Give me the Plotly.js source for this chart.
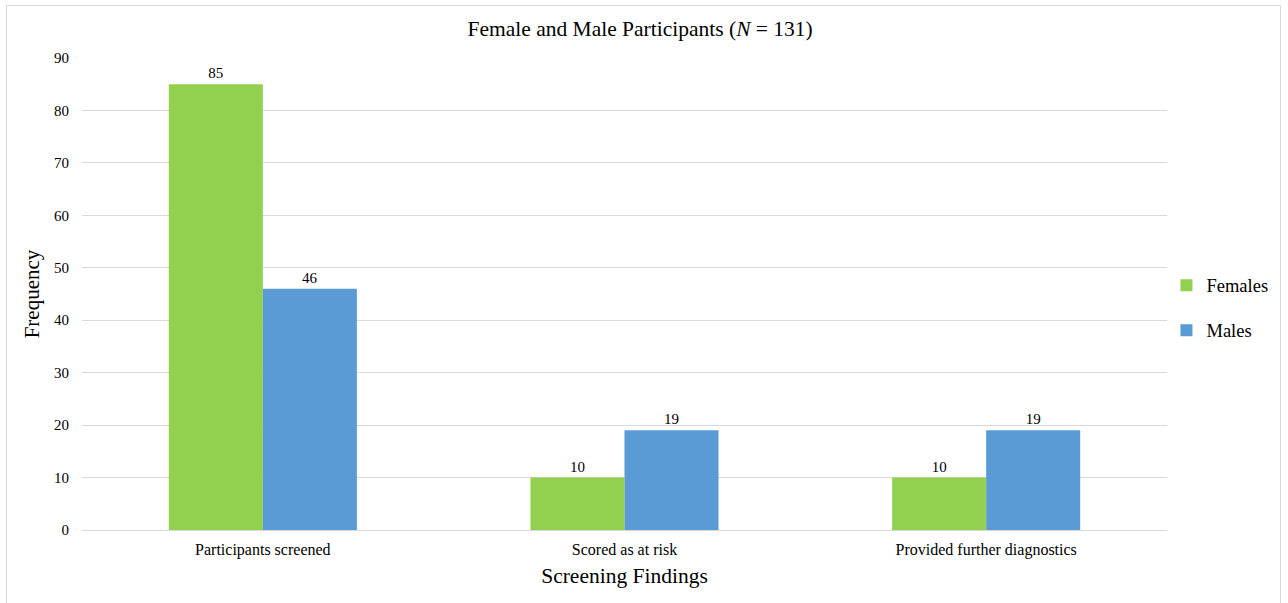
<!DOCTYPE html>
<html><head><meta charset="utf-8">
<script src="https://cdn.plot.ly/plotly-3.0.1.min.js"></script>
<style>
html,body{margin:0;padding:0;background:#fff;}
#wrap{position:relative;width:1288px;height:603px;}
#frame{position:absolute;left:6px;top:5px;width:1275px;height:610px;border:1px solid #d9d9d9;box-sizing:border-box;pointer-events:none;z-index:5;}
#chart{position:absolute;left:0;top:0;width:1288px;height:603px;}
</style></head>
<body>
<div id="wrap"><div id="chart"></div><div id="frame"></div></div>
<script>
const categories = ["Participants screened", "Scored as at risk", "Provided further diagnostics"];
const females = [85, 10, 10];
const males = [46, 19, 19];
const seriesNames = ["Females", "Males"];

const font = "'Liberation Serif', 'Times New Roman', serif";
const traces = [
  {type:'bar', name:seriesNames[0], x:categories, y:females, marker:{color:'#92d050'},
   text:females.map(String), textposition:'outside', textfont:{family:font,size:15,color:'#000'}, cliponaxis:false, legendgroup:'f'},
  {type:'bar', name:seriesNames[1], x:categories, y:males, marker:{color:'#5b9bd5'},
   text:males.map(String), textposition:'outside', textfont:{family:font,size:15,color:'#000'}, cliponaxis:false, legendgroup:'m'}
];
const layout = {
  width:1288, height:603,
  margin:{l:82, r:121, t:58, b:73, autoexpand:false},
  paper_bgcolor:'#fff', plot_bgcolor:'#fff',
  font:{family:font, color:'#000', size:15},
  title:{text:'Female and Male Participants (<i>N</i> = 131)', font:{family:font,size:21.5,color:'#000'}, x:0.497, xanchor:'center', y:0.952, yanchor:'middle'},
  barmode:'group', bargap:0.48, bargroupgap:0,
  xaxis:{range:[-0.5,2.5], showgrid:false, showline:true, linecolor:'#d9d9d9', linewidth:1, ticks:'', tickfont:{family:font,size:16,color:'#000'},
         ticklabelstandoff:5,
         title:{text:'Screening Findings', font:{family:font,size:21.5,color:'#000'}, standoff:9}},
  yaxis:{range:[0,90], dtick:10, showgrid:true, gridcolor:'#d9d9d9', gridwidth:1, zeroline:false, showline:false, ticks:'',
         tickfont:{family:font,size:15,color:'#000'}, ticklabelstandoff:12,
         title:{text:'Frequency', font:{family:font,size:21,color:'#000'}, standoff:8}},
  legend:{x:0.9995, xanchor:'left', y:0.47, yanchor:'middle', font:{family:font,size:18.5,color:'#000'}, traceorder:'grouped', tracegroupgap:18, itemwidth:30, bgcolor:'rgba(0,0,0,0)'}
};
Plotly.newPlot('chart', traces, layout, {displayModeBar:false, staticPlot:true});
</script>
</body></html>
